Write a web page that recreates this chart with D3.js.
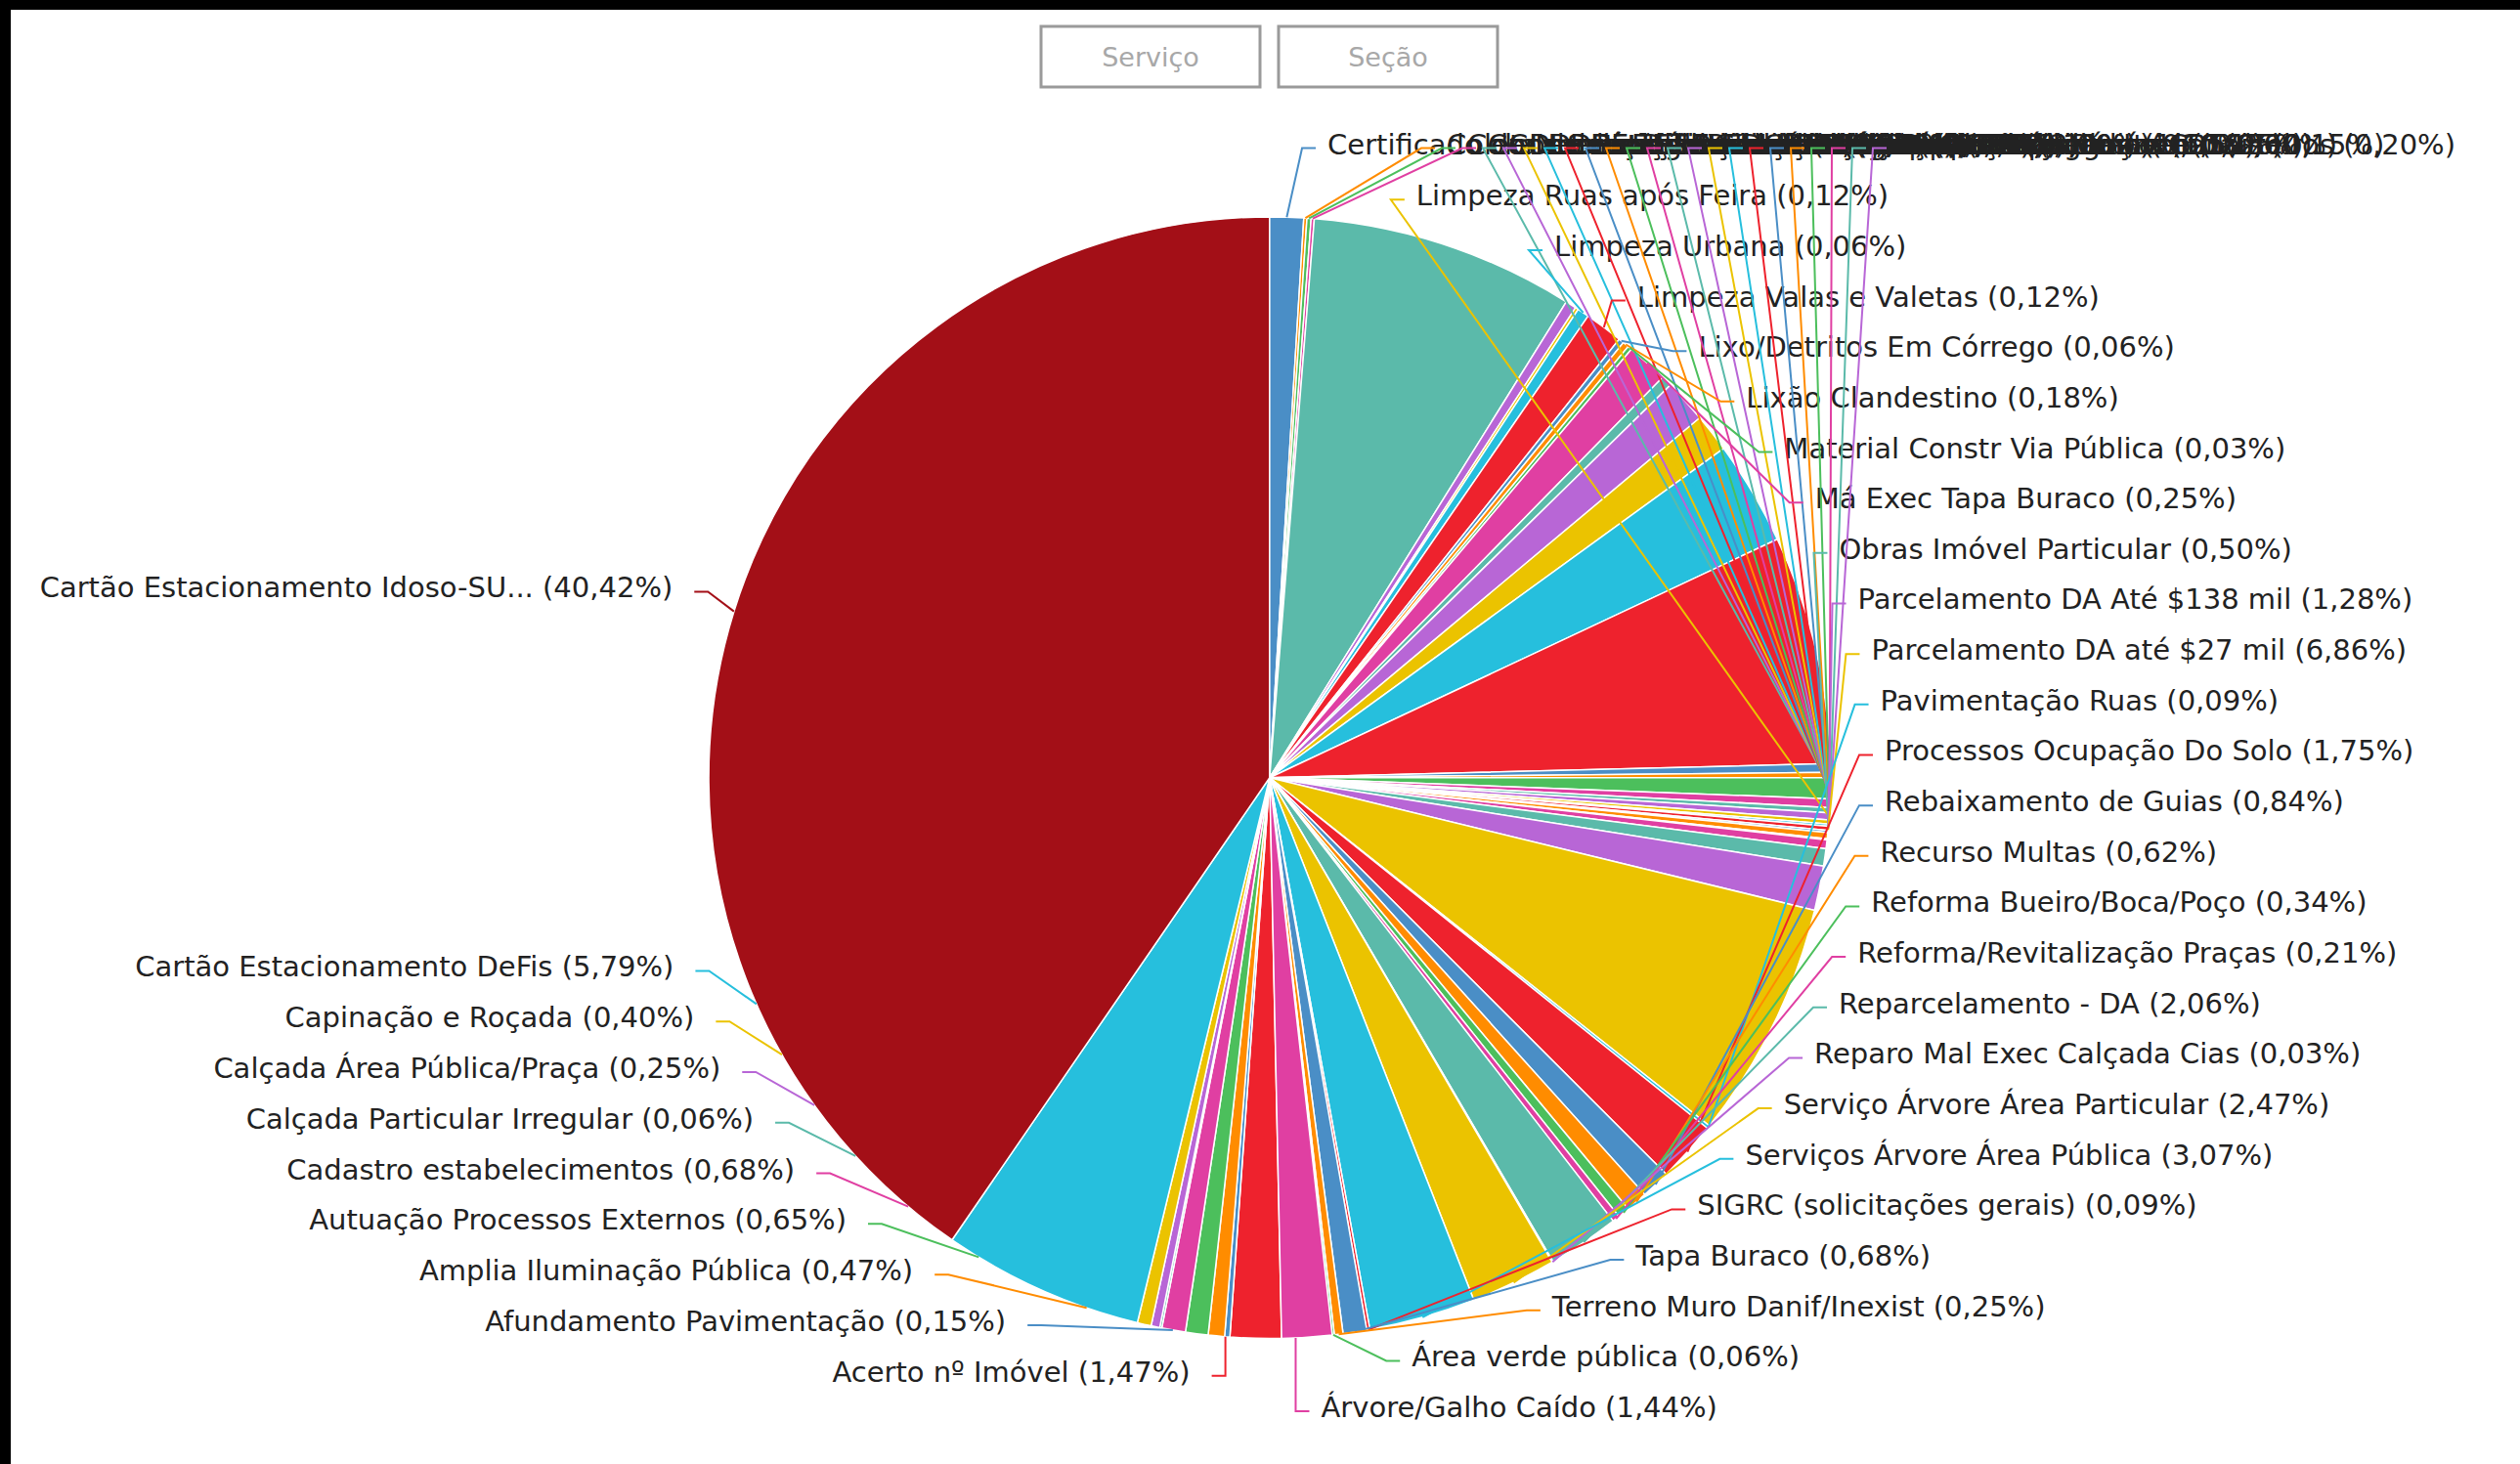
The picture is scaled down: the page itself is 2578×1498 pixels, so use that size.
<!DOCTYPE html>
<html>
<head>
<meta charset="utf-8">
<script src="https://cdn.jsdelivr.net/npm/d3@7"></script>
<style>
html, body { margin: 0; padding: 0; background: #fff; overflow: hidden; }
svg { display: block; }
</style>
</head>
<body>
<svg id="chart" width="2578" height="1498"></svg>
<script>
// categories in the order the chart lists them (slices run clockwise from "Certificado...")
var categories = [
    "Acerto nº Imóvel", "Afundamento Pavimentação", "Amplia Iluminação Pública",
    "Autuação Processos Externos", "Cadastro estabelecimentos", "Calçada Particular Irregular",
    "Calçada Área Pública/Praça", "Capinação e Roçada", "Cartão Estacionamento DeFis",
    "Cartão Estacionamento Idoso-SU...", "Certificado de Numeração Predial", "Coleta de Entulho Volumoso",
    "Coleta Seletiva Domiciliar", "Conservação de Estradas", "Consulta Débitos Imobiliários",
    "Dedetização e Desratização", "Denúncia Ambiental", "Desobstrução de Galerias",
    "Dívida Ativa - Certidão", "Entulho em Via Pública", "Esgoto a Céu Aberto",
    "Fiscalização de Obras", "Fiscalização de Posturas", "Foco de Dengue",
    "Guia IPTU 2ª Via", "Iluminação Pública Apagada", "Informações Gerais",
    "IPTU - Revisão Lançamento", "ISS - Cadastro Mobiliário", "ITBI - Avaliação de Imóvel",
    "Licença de Funcionamento", "Limpeza Bocas de Lobo", "Limpeza Córregos e Canais",
    "Limpeza de Praças e Canteiros", "Limpeza Ruas após Feira", "Limpeza Urbana",
    "Limpeza Valas e Valetas", "Lixo/Detritos Em Córrego", "Lixão Clandestino",
    "Material Constr Via Pública", "Má Exec Tapa Buraco", "Obras Imóvel Particular",
    "Parcelamento DA Até $138 mil", "Parcelamento DA até $27 mil", "Pavimentação Ruas",
    "Processos Ocupação Do Solo", "Rebaixamento de Guias", "Recurso Multas",
    "Reforma Bueiro/Boca/Poço", "Reforma/Revitalização Praças", "Reparcelamento - DA",
    "Reparo Mal Exec Calçada Cias", "Serviço Árvore Área Particular", "Serviços Árvore Área Pública",
    "SIGRC (solicitações gerais)", "Tapa Buraco", "Terreno Muro Danif/Inexist",
    "Área verde pública", "Árvore/Galho Caído"
];

var percents = [
    1.47, 0.15, 0.47,
    0.65, 0.68, 0.06,
    0.25, 0.40, 5.79,
    40.42, 0.97, 0.09,
    0.12, 0.09, 7.60,
    0.31, 0.09, 0.34,
    1.10, 0.15, 0.18,
    0.12, 1.19, 0.31,
    1.25, 1.10, 3.00,
    6.59, 0.25, 0.15,
    0.60, 0.25, 0.15,
    0.20, 0.12, 0.06,
    0.12, 0.06, 0.18,
    0.03, 0.25, 0.50,
    1.28, 6.86, 0.09,
    1.75, 0.84, 0.62,
    0.34, 0.21, 2.06,
    0.03, 2.47, 3.07,
    0.09, 0.68, 0.25,
    0.06, 1.44
];

var palette = ["#ee222d", "#4a8ec6", "#ff8c00", "#4cbf5c", "#e03fa2",
               "#5bbaaa", "#b866d6", "#ebc300", "#26bfdd"];
var selectedIndex = 9;
var selectedColor = "#a30f17";

var buttonLabels = ["Serviço", "Seção"];

// ---------------------------------------------------------------

var W = 2578, H = 1498;
var s = W / 1568;          // layout was measured on a 1568 wide copy
var cx = 790 * s, cy = 484 * s, r = 349 * s;
var fontSize = 29;

var svg = d3.select("#chart");
svg.append("rect").attr("width", W).attr("height", H).attr("fill", "#fff");
svg.append("rect").attr("width", W).attr("height", 10).attr("fill", "#000");
svg.append("rect").attr("width", 11).attr("height", H).attr("fill", "#000");

// buttons
var btn = svg.selectAll("g.btn").data(buttonLabels).enter().append("g")
    .attr("class", "btn")
    .attr("transform", function (d, i) { return "translate(" + (1065 + i * 243) + ",27)"; });
btn.append("rect")
    .attr("width", 224).attr("height", 62)
    .attr("fill", "#fff").attr("stroke", "#9a9a9a").attr("stroke-width", 3);
btn.append("text")
    .attr("x", 112).attr("y", 33)
    .attr("text-anchor", "middle").attr("dominant-baseline", "middle")
    .attr("font-family", "DejaVu Sans").attr("font-size", 27)
    .attr("fill", "#a8a8a8")
    .text(function (d) { return d; });

function colorOf(i) {
    return i == selectedIndex ? selectedColor : palette[i % palette.length];
}

var rows = categories.map(function (c, i) { return {name: c, value: percents[i], index: i}; });

// the selected slice ends at 12 o'clock, everything before it sits to its right
var offset = -d3.sum(percents.slice(0, selectedIndex + 1)) / d3.sum(percents) * 2 * Math.PI;
var pie = d3.pie().sort(null).value(function (d) { return d.value; })
    .startAngle(offset).endAngle(offset + 2 * Math.PI);
var arcs = pie(rows);
var arc = d3.arc().innerRadius(0).outerRadius(r);

var gPie = svg.append("g").attr("transform", "translate(" + cx + "," + cy + ")");
gPie.selectAll("path").data(arcs).enter().append("path")
    .attr("d", arc)
    .attr("fill", function (d) { return colorOf(d.data.index); })
    .attr("stroke", "#fff").attr("stroke-width", 1.5);

// ---------------- labels ----------------
var fmt = d3.format(".2f");
function labelText(i) {
    return categories[i] + " (" + fmt(percents[i]).replace(".", ",") + "%)";
}

function edge(angle) {
    return [cx + r * Math.sin(angle), cy - r * Math.cos(angle)];
}
function midAngle(i) {
    return (arcs[i].startAngle + arcs[i].endAngle) / 2;
}
function bottomEdge(x) {
    return [x, cy + Math.sqrt(Math.max(0, r * r - (x - cx) * (x - cx)))];
}

var A = 383 * s, B = 371.7 * s, AL = 391 * s, BL = 374 * s;

function layout(i) {
    var p = {};
    if (i >= 10 && i <= 33) {
        // labels that did not fit, piled up on one line
        p.side = "right";
        p.y = 91 * s;
        p.x = i == 10 ? 826 * s : 1480 + (i - 11) * 21;
    } else if (i >= 34) {
        var k = i - 34;
        p.side = "right";
        p.y = (123 + k * 31.42) * s;
        var t = (p.y - cy) / B;
        p.x = cx + Math.max(A * Math.sqrt(Math.max(0, 1 - t * t)), 32 * s);
    } else {
        p.side = "left";
        p.y = i == selectedIndex ? 367 * s : (603 + (8 - i) * 31.5) * s;
        var tl = (p.y - cy) / BL;
        p.x = cx - AL * Math.sqrt(Math.max(0, 1 - tl * tl));
    }

    if (p.side == "right") {
        p.tick = [[p.x - 12, p.y + 2], [p.x - 26, p.y + 2]];
    } else {
        p.tick = [[p.x + 22, p.y + 2], [p.x + 36, p.y + 2]];
    }
    var end = p.tick[1];

    // where the leader line lands
    if (i == selectedIndex || (i >= 10 && i <= 13) || (i >= 44 && i <= 57)) {
        p.anchor = edge(midAngle(i));
    } else if (i >= 35 && i <= 40) {
        p.anchor = edge(midAngle(i - 18));
    } else if (i == 58 || i == 0) {
        p.anchor = bottomEdge(end[0]);
    } else if (i >= 14 && i <= 43) {
        p.anchor = edge((91 + (i - 14) * 0.15) * Math.PI / 180);
    } else {
        var ay = Math.min(p.y + 36, cy + r * 0.985);
        p.anchor = [cx - Math.sqrt(r * r - (ay - cy) * (ay - cy)), ay];
    }
    p.index = i;
    return p;
}

var placed = rows.map(function (d) { return layout(d.index); });

svg.append("g").selectAll("text").data(placed).enter().append("text")
    .attr("x", function (d) { return d.x; })
    .attr("y", function (d) { return d.y; })
    .attr("dominant-baseline", "middle")
    .attr("text-anchor", function (d) { return d.side == "left" ? "end" : "start"; })
    .attr("font-family", "DejaVu Sans")
    .attr("font-size", fontSize)
    .attr("fill", "#222")
    .text(function (d) { return labelText(d.index); });

var line = d3.line();
svg.append("g").selectAll("path").data(placed).enter().append("path")
    .attr("d", function (d) { return line([d.tick[0], d.tick[1], d.anchor]); })
    .attr("fill", "none")
    .attr("stroke", function (d) { return colorOf(d.index); })
    .attr("stroke-width", 2);
</script>
</body>
</html>
